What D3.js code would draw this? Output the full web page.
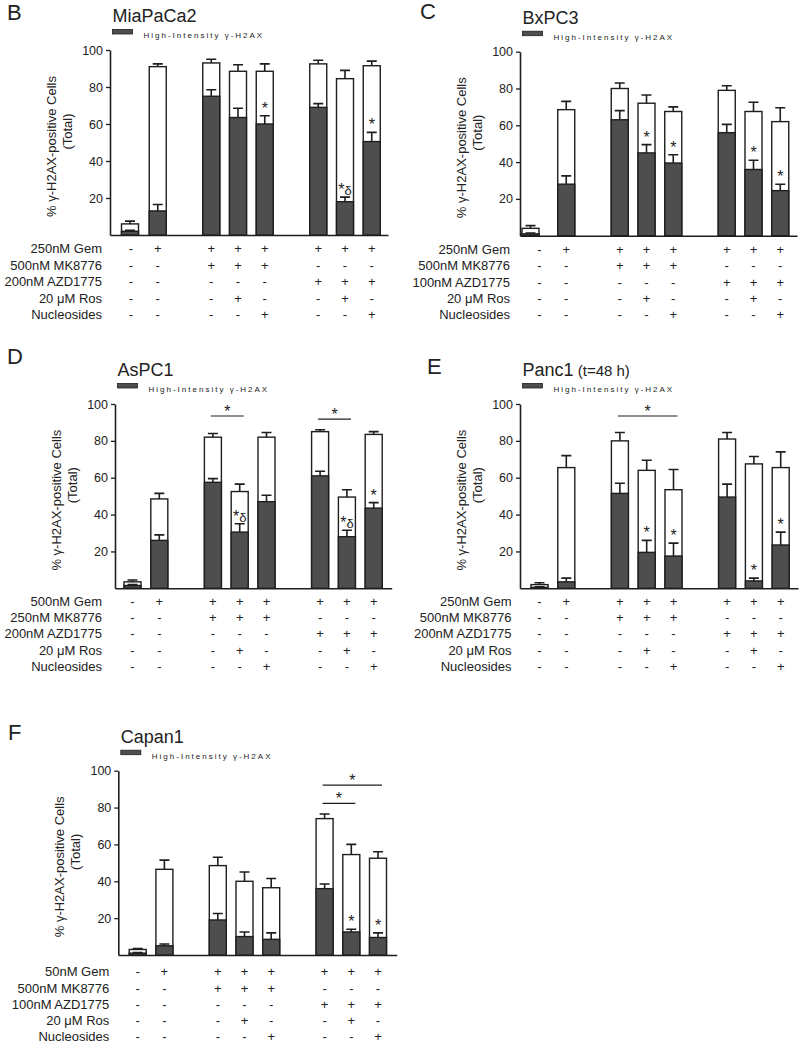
<!DOCTYPE html>
<html><head><meta charset="utf-8">
<script src="https://cdn.jsdelivr.net/npm/d3@7"></script>
<style>
body{margin:0;background:#fff}
svg{display:block}
text{font-family:Arial,"Liberation Sans",Helvetica,sans-serif;fill:#222}
</style>
</head><body>
<svg id="chart" width="800" height="1045"></svg>
<script>
// ---------- shared categories / labels ----------
const conditions = ["Control","Gem","Gem+MK8776","Gem+MK8776+Ros","Gem+MK8776+Nuc","Gem+AZD1775","Gem+AZD1775+Ros","Gem+AZD1775+Nuc"];
const conditionGroups = [0,0,1,1,1,2,2,2];
const yTicks = [20,40,60,80,100];
const legendLabel = "High-Intensity \u03B3-H2AX";
const yLabelLines = ["% \u03B3-H2AX-positive Cells","(Total)"];
const gemRow = ["-","+","+","+","+","+","+","+"];
const chk1Row = ["-","-","+","+","+","-","-","-"];
const wee1Row = ["-","-","-","-","-","+","+","+"];
const rosRow = ["-","-","-","+","-","-","+","-"];
const nucRow = ["-","-","-","-","+","-","-","+"];

// ---------- B: MiaPaCa2 ----------
const miaRows = ["250nM Gem","500nM MK8776","200nM AZD1775","20 \u03BCM Ros","Nucleosides"];
const miaTotal = [6, 91, 93, 88.5, 88.5, 92.5, 84.5, 91.5];
const miaTotalErr = [1.5, 1.5, 2, 3.5, 4, 2, 4.5, 2.5];
const miaHigh = [2, 13, 75, 63.5, 60, 69, 18, 50.5];
const miaHighErr = [0.5, 3.5, 3.5, 5, 4.5, 2, 2.5, 5];
const miaStars = ["","","","","*","","*\u03B4","*"];
const miaBrackets = [];

// ---------- C: BxPC3 ----------
const bxRows = ["250nM Gem","500nM MK8776","100nM AZD1775","20 \u03BCM Ros","Nucleosides"];
const bxTotal = [4, 68.5, 80, 72, 67.5, 79, 67.5, 62];
const bxTotalErr = [1.5, 4.5, 3, 4.5, 2.5, 2.5, 5, 7.5];
const bxHigh = [1, 28, 63, 45, 39.5, 56, 36, 24.5];
const bxHighErr = [0.5, 4.5, 5, 4.5, 4.5, 4.5, 5, 3.5];
const bxStars = ["","","","*","*","","*","*"];
const bxBrackets = [];

// ---------- D: AsPC1 ----------
const asRows = ["500nM Gem","250nM MK8776","200nM AZD1775","20 \u03BCM Ros","Nucleosides"];
const asTotal = [3.5, 48.5, 82, 52.5, 82, 85, 49.5, 83.5];
const asTotalErr = [1, 3, 2, 4, 2.5, 1, 4, 1.5];
const asHigh = [1.5, 26, 57.5, 30.5, 47, 61, 28, 43.5];
const asHighErr = [0.5, 3, 2, 4.5, 3.5, 2.5, 3.5, 3];
const asStars = ["","","","*\u03B4","","","*\u03B4","*"];
const asBrackets = [[2,3,93.5],[5,6,91.8]];

// ---------- E: Panc1 ----------
const pancRows = ["250nM Gem","500nM MK8776","200nM AZD1775","20 \u03BCM Ros","Nucleosides"];
const pancTotal = [2, 65.5, 80, 64, 53.5, 81, 67.5, 65.5];
const pancTotalErr = [1, 6.5, 4.5, 5.5, 11, 3.5, 4, 8.5];
const pancHigh = [0.5, 3.5, 51.5, 19.5, 17.5, 49.5, 4, 23.5];
const pancHighErr = [0.3, 2, 5.5, 6.5, 7, 7, 1.5, 7];
const pancStars = ["","","","*","*","","*","*"];
const pancBrackets = [[2,4,93.5]];

// ---------- F: Capan1 ----------
const capRows = ["50nM Gem","500nM MK8776","100nM AZD1775","20 \u03BCM Ros","Nucleosides"];
const capTotal = [3, 46.5, 48.5, 40, 36.5, 74, 54.5, 52.5];
const capTotalErr = [0.5, 5, 4.5, 5, 5, 2.5, 5.5, 3.5];
const capHigh = [1, 5, 19, 10, 8.5, 36, 12.5, 9.5];
const capHighErr = [0.3, 1, 3.5, 2.5, 3.5, 2.5, 1.5, 2.5];
const capStars = ["","","","","","","*","*"];
const capBrackets = [[5,6,82.3],[5,7,92.2]];

const signRows = [gemRow, chk1Row, wee1Row, rosRow, nucRow];

const panels = [
  {letter:"B", title:"MiaPaCa2", sub:null, rows:miaRows, total:miaTotal, totalErr:miaTotalErr, high:miaHigh, highErr:miaHighErr, stars:miaStars, brackets:miaBrackets,
   L:{ox:110, top:50, bottom:235, end:388, first:131, step:26.75, letterX:7, letterY:19.5, rowRight:102, rowY:253, rowStep:16.5, shift0:-1}},
  {letter:"C", title:"BxPC3", sub:null, rows:bxRows, total:bxTotal, totalErr:bxTotalErr, high:bxHigh, highErr:bxHighErr, stars:bxStars, brackets:bxBrackets,
   L:{ox:520, top:51.7, bottom:235.7, end:797, first:539.5, step:26.75, letterX:420, letterY:18.5, rowRight:510, rowY:254, rowStep:16.25, shift0:-9}},
  {letter:"D", title:"AsPC1", sub:null, rows:asRows, total:asTotal, totalErr:asTotalErr, high:asHigh, highErr:asHighErr, stars:asStars, brackets:asBrackets,
   L:{ox:115, top:404, bottom:588.3, end:391.7, first:132.5, step:26.8, letterX:7, letterY:364, rowRight:102, rowY:606.2, rowStep:16.1, shift0:0}},
  {letter:"E", title:"Panc1", sub:"(t=48 h)", rows:pancRows, total:pancTotal, totalErr:pancTotalErr, high:pancHigh, highErr:pancHighErr, stars:pancStars, brackets:pancBrackets,
   L:{ox:520, top:404, bottom:588.3, end:798, first:539.5, step:26.8, letterX:427, letterY:373.5, rowRight:511.5, rowY:606.2, rowStep:16.1, shift0:0}},
  {letter:"F", title:"Capan1", sub:null, rows:capRows, total:capTotal, totalErr:capTotalErr, high:capHigh, highErr:capHighErr, stars:capStars, brackets:capBrackets,
   L:{ox:118.3, top:770.7, bottom:955, end:396.7, first:137.7, step:26.7, letterX:8, letterY:740, rowRight:109.3, rowY:976.2, rowStep:16.3, shift0:0}}
];

const svg = d3.select("#chart");
const INK = "#1e1e1e", DARK = "#4e4e4e";
const FONT = "Arial,'Liberation Sans',Helvetica,sans-serif";

// slot keys with spacers between treatment groups
const slotKeys = [];
conditions.forEach((c,i) => {
  if (i > 0 && conditionGroups[i] !== conditionGroups[i-1]) slotKeys.push("gap"+i);
  slotKeys.push(c);
});

function drawPanel(p) {
  const L = p.L;
  const g = svg.append("g");
  const y = d3.scaleLinear().domain([0,100]).range([L.bottom, L.top]);
  const x = d3.scalePoint().domain(slotKeys).range([L.first, L.first + (slotKeys.length-1)*L.step]);
  const bx = (c, i) => x(c) + (i === 0 ? L.shift0 : 0);   // bar centre (first bar nudged as in original)
  const bw = 17, cap = 10;

  // panel letter and title
  g.append("text").attr("x", L.letterX).attr("y", L.letterY).attr("font-size", 22).text(p.letter);
  const t = g.append("text").attr("x", L.ox + 2.5).attr("y", L.top - 28).attr("font-size", 18).text(p.title);
  if (p.sub) t.append("tspan").attr("font-size", 15).text(" " + p.sub);

  // legend
  g.append("rect").attr("x", L.ox + 2.5).attr("y", L.top - 20.5).attr("width", 20).attr("height", 4.5)
    .attr("fill", DARK).attr("stroke", INK).attr("stroke-width", 0.8);
  g.append("text").attr("x", L.ox + 33.5).attr("y", L.top - 12).attr("font-size", 8)
    .attr("letter-spacing", 2).text(legendLabel);

  // y axis
  const ya = g.append("g").attr("transform", `translate(${L.ox},0)`)
    .call(d3.axisLeft(y).tickValues(yTicks).tickSize(4).tickSizeOuter(0).tickPadding(3));
  ya.select(".domain").attr("stroke", INK).attr("stroke-width", 1.6);
  ya.selectAll(".tick line").attr("stroke", INK).attr("stroke-width", 1.3);
  ya.selectAll(".tick text").attr("font-size", 12.5).attr("fill", "#222").attr("font-family", FONT);

  // x axis baseline
  const xl = d3.scaleLinear().range([L.ox, L.end]);
  const xa = g.append("g").attr("transform", `translate(0,${L.bottom})`)
    .call(d3.axisBottom(xl).tickValues([]).tickSizeOuter(0));
  xa.select(".domain").attr("stroke", INK).attr("stroke-width", 1.6);

  // y label
  const mid = (L.top + L.bottom) / 2;
  const offs = [[-59, 4], [-43, -11]];
  yLabelLines.forEach((s, i) => {
    const cx = L.ox + offs[i][0] + 4.5, cy = mid + offs[i][1];
    g.append("text").attr("transform", `translate(${cx},${cy}) rotate(-90)`)
      .attr("text-anchor", "middle").attr("font-size", 13).text(s);
  });

  const data = conditions.map((c, i) => ({c, i, total:p.total[i], te:p.totalErr[i], high:p.high[i], he:p.highErr[i], star:p.stars[i]}));

  const err = (key, ekey) => {
    g.append("g").selectAll("path").data(data).join("path")
      .attr("d", d => { const cx = bx(d.c, d.i); return `M${cx},${y(d[key])}V${y(d[key]+d[ekey])}M${cx-cap/2},${y(d[key]+d[ekey])}H${cx+cap/2}`; })
      .attr("fill", "none").attr("stroke", INK).attr("stroke-width", 1.6);
  };
  // total (white) bars
  g.append("g").selectAll("rect").data(data).join("rect")
    .attr("x", d => bx(d.c, d.i) - bw/2).attr("width", bw)
    .attr("y", d => y(d.total)).attr("height", d => y(0) - y(d.total))
    .attr("fill", "#fff").attr("stroke", INK).attr("stroke-width", 1.4);
  err("total", "te");
  // high-intensity (dark) bars
  g.append("g").selectAll("rect").data(data).join("rect")
    .attr("x", d => bx(d.c, d.i) - bw/2).attr("width", bw)
    .attr("y", d => y(d.high)).attr("height", d => y(0) - y(d.high))
    .attr("fill", DARK).attr("stroke", INK).attr("stroke-width", 1.4);
  err("high", "he");

  // stars
  data.filter(d => d.star).forEach(d => {
    const ty = y(d.high + d.he) - 2;
    const tx = g.append("text").attr("x", bx(d.c, d.i)).attr("y", ty).attr("text-anchor", "middle").attr("font-size", 16);
    if (d.star.length > 1) {
      tx.append("tspan").text("*");
      tx.append("tspan").attr("font-size", 13).text(d.star.slice(1));
    } else tx.text(d.star);
  });

  // brackets
  p.brackets.forEach(([a, b, v]) => {
    const x1 = x(conditions[a]) - 2, x2 = x(conditions[b]) + 4, yy = y(v);
    g.append("line").attr("x1", x1).attr("x2", x2).attr("y1", yy).attr("y2", yy).attr("stroke", INK).attr("stroke-width", 1.2);
    g.append("text").attr("x", (x1 + x2) / 2).attr("y", yy + 1).attr("text-anchor", "middle").attr("font-size", 16).text("*");
  });

  // condition rows
  p.rows.forEach((lab, r) => {
    const ry = L.rowY + r * L.rowStep;
    g.append("text").attr("x", L.rowRight).attr("y", ry).attr("text-anchor", "end").attr("font-size", 13).text(lab);
    g.append("g").selectAll("text").data(signRows[r]).join("text")
      .attr("x", (s, i) => x(conditions[i])).attr("y", ry)
      .attr("text-anchor", "middle").attr("font-size", 13).text(s => s);
  });
}

panels.forEach(drawPanel);
</script>
</body></html>
